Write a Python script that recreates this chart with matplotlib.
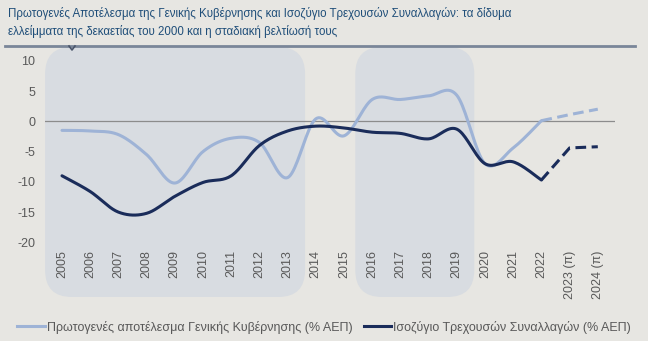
import numpy as np
import matplotlib.pyplot as plt
from matplotlib.patches import FancyBboxPatch
from matplotlib.lines import Line2D

plt.rcParams['font.family'] = ['Liberation Sans', 'DejaVu Sans']

# Data (% of GDP)
years = ['2005', '2006', '2007', '2008', '2009', '2010', '2011', '2012', '2013', '2014',
         '2015', '2016', '2017', '2018', '2019', '2020', '2021', '2022', '2023 (π)', '2024 (π)']
primary_balance = [-1.5, -1.6, -2.2, -5.5, -10.2, -5.0, -2.8, -3.5, -9.3, 0.4,
                   -2.4, 3.6, 3.6, 4.2, 4.3, -7.0, -4.4, 0.1, 1.1, 2.0]
current_account = [-9.0, -11.6, -15.0, -15.2, -12.4, -10.1, -9.0, -4.0, -1.6, -0.8,
                   -1.1, -1.8, -2.0, -2.9, -1.3, -7.0, -6.7, -9.7, -4.4, -4.2]
n_actual = 18  # up to 2022, the rest are forecasts
shaded_periods = [(0, 8), (11, 14)]
yticks = [-20, -15, -10, -5, 0, 5, 10]

title = ('Πρωτογενές Αποτέλεσμα της Γενικής Κυβέρνησης και Ισοζύγιο Τρεχουσών Συναλλαγών: τα δίδυμα\n'
         'ελλείμματα της δεκαετίας του 2000 και η σταδιακή βελτίωσή τους')
label_pb = 'Πρωτογενές αποτέλεσμα Γενικής Κυβέρνησης (% ΑΕΠ)'
label_ca = 'Ισοζύγιο Τρεχουσών Συναλλαγών (% ΑΕΠ)'

bg = '#E7E6E2'
box_col = '#D8DCE1'
light = '#9EB3D6'
dark = '#1A2C5A'
text_col = '#595959'


def smooth(x, y, steps=20):
    # Catmull-Rom style bezier smoothing, like spreadsheet "smoothed line"
    x = np.asarray(x, float)
    y = np.asarray(y, float)
    px, py = [], []
    n = len(x)
    for i in range(n - 1):
        x0, y0 = (x[i - 1], y[i - 1]) if i > 0 else (x[i], y[i])
        x3, y3 = (x[i + 2], y[i + 2]) if i + 2 < n else (x[i + 1], y[i + 1])
        c1x = x[i] + (x[i + 1] - x0) / 6
        c1y = y[i] + (y[i + 1] - y0) / 6
        c2x = x[i + 1] - (x3 - x[i]) / 6
        c2y = y[i + 1] - (y3 - y[i]) / 6
        t = np.linspace(0, 1, steps, endpoint=(i == n - 2))
        a = (1 - t) ** 3
        b = 3 * (1 - t) ** 2 * t
        c = 3 * (1 - t) * t ** 2
        d = t ** 3
        px.extend(a * x[i] + b * c1x + c * c2x + d * x[i + 1])
        py.extend(a * y[i] + b * c1y + c * c2y + d * y[i + 1])
    return np.array(px), np.array(py)


W, H = 648, 341
fig = plt.figure(figsize=(W / 100, H / 100), dpi=100, facecolor=bg)
ax = fig.add_axes([45 / W, 1 - 297 / H, 570 / W, 250 / H])
ax.set_facecolor(bg)

xpx = 28.2
ypx = 6.03
ax.set_xlim(-(62 - 45) / xpx, (615 - 62) / xpx)
ax.set_ylim(-(297 - 122) / ypx, (122 - 48) / ypx)

# shaded periods
ylo, yhi = ax.get_ylim()
for s, e in shaded_periods:
    x0, x1 = s - 0.6, e + 0.62
    p = FancyBboxPatch((x0, ylo), x1 - x0, yhi - ylo,
                       boxstyle='round,pad=0,rounding_size=0.95',
                       mutation_aspect=xpx / ypx,
                       fc=box_col, ec='none', zorder=0)
    ax.add_patch(p)

ax.axhline(0, color='#8C8C8C', lw=0.9, zorder=1)

x = np.arange(len(years))
for vals, col in [(primary_balance, light), (current_account, dark)]:
    sx, sy = smooth(x[:n_actual], vals[:n_actual])
    ax.plot(sx, sy, color=col, lw=2.2, solid_capstyle='round', zorder=3)
    ax.plot(x[n_actual - 1:], vals[n_actual - 1:], color=col, lw=2.2,
            ls=(0, (3.5, 1.8)), zorder=3)

ax.set_yticks(yticks)
ax.set_yticklabels([str(v) for v in yticks], color=text_col, fontsize=9)
ax.tick_params(axis='y', length=0, pad=7)
ax.set_xticks([])
for i, lab in enumerate(years):
    ax.text(i, -21.3, lab, rotation=90, ha='center', va='top',
            fontsize=9, color=text_col)
for sp in ax.spines.values():
    sp.set_visible(False)

# title and rule
fig.text(8 / W, 1 - 7 / H, title, ha='left', va='top', fontsize=8.3,
         color='#1F4E79', linespacing=1.5)
fig.add_artist(Line2D([5 / W, 635 / W], [1 - 45.5 / H] * 2, color='#7A8699', lw=2))
fig.add_artist(Line2D([69 / W, 72 / W, 75 / W], [1 - 46 / H, 1 - 50 / H, 1 - 46 / H],
                      color='#4A556A', lw=1.2))

handles = [Line2D([], [], color=light, lw=2.2), Line2D([], [], color=dark, lw=2.2)]
fig.legend(handles, [label_pb, label_ca], loc='center', bbox_to_anchor=(0.5, 1 - 327 / H),
           ncol=2, frameon=False, fontsize=9, handlelength=2.2, handletextpad=0.15,
           columnspacing=0.9, labelcolor=text_col)

fig.savefig('out.png', dpi=100, facecolor=bg)
